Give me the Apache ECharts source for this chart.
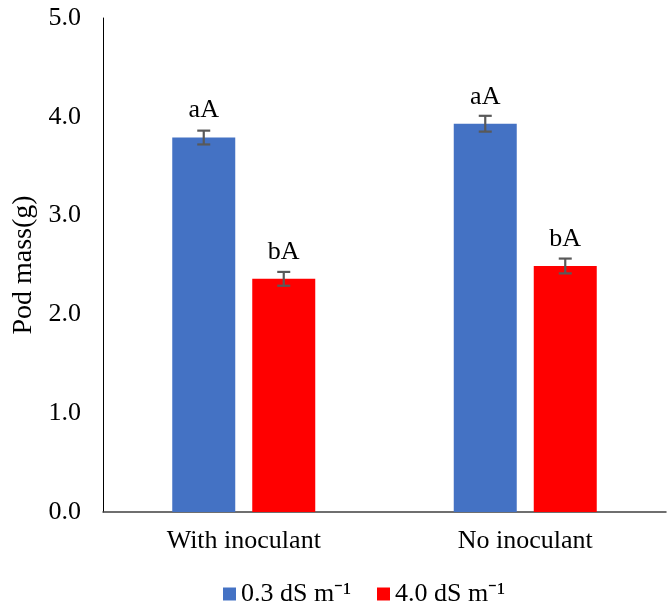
<!DOCTYPE html>
<html>
<head>
<meta charset="utf-8">
<script src="https://cdn.jsdelivr.net/npm/echarts@6/dist/echarts.min.js"></script>
<style>
html,body{margin:0;padding:0;background:#fff;}
#c{width:669px;height:608px;}
</style>
</head>
<body>
<div id="c"></div>
<script>
const categories = ['With inoculant', 'No inoculant'];
const seriesNames = ['0.3 dS m\u207B\u00B9', '4.0 dS m\u207B\u00B9'];
const lowSalinity = [3.79, 3.93];
const highSalinity = [2.36, 2.49];
const lowErr = [0.07, 0.08];
const highErr = [0.07, 0.075];
const lowLetters = ['aA', 'aA'];
const highLetters = ['bA', 'bA'];
const yTicks = [0, 1, 2, 3, 4, 5];

const FONT = '"Liberation Serif", "Times New Roman", serif';
const BAR_W = 63;
const BAR_GAP = 17;
const OFFSET = (BAR_W + BAR_GAP) / 2;

function errSeries(values, errs, offset) {
  return {
    type: 'custom',
    silent: true,
    z: 10,
    data: values.map((v, i) => [i, v, errs[i]]),
    renderItem: function (params, api) {
      const x = api.coord([api.value(0), 0])[0] + offset;
      const hi = api.coord([api.value(0), api.value(1) + api.value(2)])[1];
      const lo = api.coord([api.value(0), api.value(1) - api.value(2)])[1];
      const cap = 6.5;
      const style = { stroke: '#595959', lineWidth: 2.2 };
      return {
        type: 'group',
        children: [
          { type: 'line', shape: { x1: x, y1: hi, x2: x, y2: lo }, style: style },
          { type: 'line', shape: { x1: x - cap, y1: hi, x2: x + cap, y2: hi }, style: style },
          { type: 'line', shape: { x1: x - cap, y1: lo, x2: x + cap, y2: lo }, style: style }
        ]
      };
    }
  };
}

function barSeries(name, values, letters, color) {
  return {
    name: name,
    type: 'bar',
    barWidth: BAR_W,
    barGap: (BAR_GAP / BAR_W * 100) + '%',
    data: values,
    itemStyle: { color: color },
    label: {
      show: true,
      position: 'top',
      distance: 14,
      formatter: p => letters[p.dataIndex],
      fontFamily: FONT,
      fontSize: 26,
      color: '#000'
    }
  };
}

const chart = echarts.init(document.getElementById('c'));
chart.setOption({
  animation: false,
  backgroundColor: '#fff',
  textStyle: { fontFamily: FONT },
  grid: { left: 103, right: 3, top: 18, bottom: 96, containLabel: false },
  legend: {
    data: seriesNames,
    left: 218,
    top: 576,
    itemWidth: 13,
    itemHeight: 13,
    itemGap: 26,
    icon: 'rect',
    textStyle: { fontFamily: FONT, fontSize: 26, color: '#000' }
  },
  xAxis: {
    type: 'category',
    data: categories,
    axisTick: { show: false },
    axisLine: { lineStyle: { color: '#404040', width: 1.5 } },
    axisLabel: { fontFamily: FONT, fontSize: 26, color: '#000', margin: 16 }
  },
  yAxis: {
    type: 'value',
    min: yTicks[0],
    max: yTicks[yTicks.length - 1],
    interval: 1,
    name: 'Pod mass(g)',
    nameLocation: 'middle',
    nameGap: 61,
    nameTextStyle: { fontFamily: FONT, fontSize: 28, color: '#000' },
    axisLine: { show: true, lineStyle: { color: '#000', width: 1 } },
    axisTick: { show: false },
    splitLine: { show: false },
    axisLabel: {
      fontFamily: FONT, fontSize: 26, color: '#000', margin: 22,
      formatter: v => v.toFixed(1)
    }
  },
  series: [
    barSeries(seriesNames[0], lowSalinity, lowLetters, '#4472C4'),
    barSeries(seriesNames[1], highSalinity, highLetters, '#FF0000'),
    errSeries(lowSalinity, lowErr, -OFFSET),
    errSeries(highSalinity, highErr, OFFSET)
  ]
});
</script>
</body>
</html>
